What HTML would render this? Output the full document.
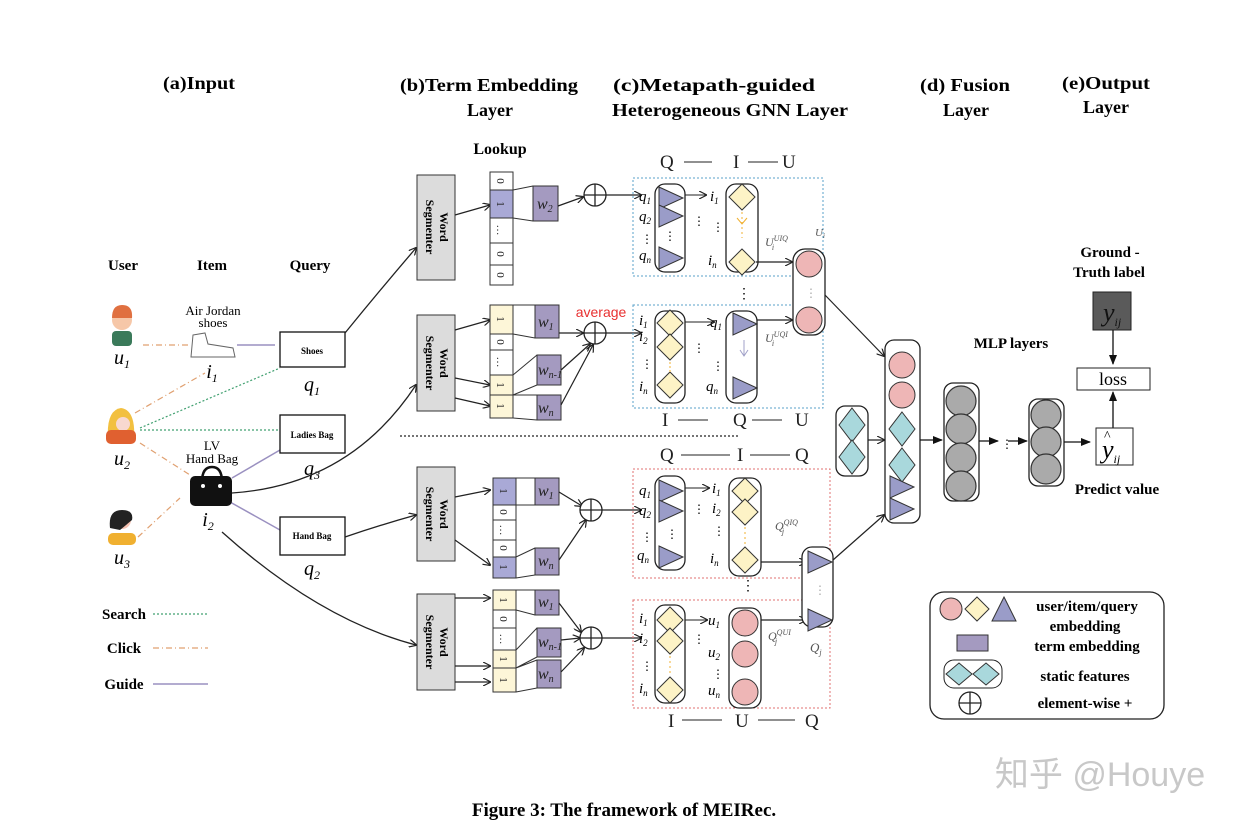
<!DOCTYPE html>
<html><head><meta charset="utf-8"><style>
body{margin:0;background:#fff}
svg{display:block}
text{font-family:"Liberation Serif",serif}
.t{font-weight:bold;font-size:18px}
.b{font-weight:bold}
.i{font-style:italic}
</style></head><body>
<svg width="1248" height="830" viewBox="0 0 1248 830" xmlns="http://www.w3.org/2000/svg">
<defs>
<marker id="a" markerWidth="8" markerHeight="8" refX="7" refY="4" orient="auto" markerUnits="userSpaceOnUse"><path d="M0,0 L8,4 L0,8" fill="none" stroke="#222" stroke-width="1.2"/></marker>
<marker id="af" markerWidth="10" markerHeight="10" refX="9" refY="5" orient="auto" markerUnits="userSpaceOnUse"><path d="M0,1 L10,5 L0,9Z" fill="#111"/></marker>
<g id="tri"><polygon points="0,-11 24,0 0,11" fill="#9a9cc8" stroke="#333" stroke-width="1"/></g>
<g id="dia"><polygon points="0,-13 13,0 0,13 -13,0" fill="#fdf3c6" stroke="#333" stroke-width="1"/></g>
<g id="cir"><circle r="13" fill="#eeb6b6" stroke="#333" stroke-width="1"/></g>
<g id="gc"><circle r="15" fill="#aaaaaa" stroke="#333" stroke-width="1.2"/></g>
<g id="sd"><polygon points="0,-17 13,0 0,17 -13,0" fill="#a9d8dc" stroke="#333" stroke-width="1"/></g>
<g id="plus"><circle r="11" fill="#fff" stroke="#222" stroke-width="1.3"/><path d="M-11,0H11M0,-11V11" stroke="#222" stroke-width="1.3"/></g>
</defs>

<!-- titles -->
<text class="t" x="199" y="89" text-anchor="middle" textLength="72" lengthAdjust="spacingAndGlyphs">(a)Input</text>
<text class="t" x="489" y="91" text-anchor="middle" textLength="178" lengthAdjust="spacingAndGlyphs">(b)Term Embedding</text>
<text class="t" x="490" y="116" text-anchor="middle">Layer</text>
<text class="t" x="714" y="91" text-anchor="middle" textLength="202" lengthAdjust="spacingAndGlyphs">(c)Metapath-guided</text>
<text class="t" x="730" y="116" text-anchor="middle" textLength="236" lengthAdjust="spacingAndGlyphs">Heterogeneous GNN Layer</text>
<text class="t" x="965" y="91" text-anchor="middle" textLength="90" lengthAdjust="spacingAndGlyphs">(d) Fusion</text>
<text class="t" x="966" y="116" text-anchor="middle">Layer</text>
<text class="t" x="1106" y="89" text-anchor="middle" textLength="88" lengthAdjust="spacingAndGlyphs">(e)Output</text>
<text class="t" x="1106" y="113" text-anchor="middle">Layer</text>
<text class="b" x="500" y="154" text-anchor="middle" font-size="16">Lookup</text>

<!-- input labels -->
<text class="b" x="123" y="270" text-anchor="middle" font-size="15">User</text>
<text class="b" x="212" y="270" text-anchor="middle" font-size="15">Item</text>
<text class="b" x="310" y="270" text-anchor="middle" font-size="15">Query</text>

<!-- connections in input -->
<path d="M143,345 L190,345" stroke="#e0a070" stroke-width="1.2" stroke-dasharray="6,3,1,3" fill="none"/>
<path d="M237,345 L275,345" stroke="#9a90c0" stroke-width="1.5"/>
<path d="M135,413 L205,373" stroke="#e0a070" stroke-width="1.2" stroke-dasharray="6,3,1,3"/>
<path d="M140,428 L280,368" stroke="#40a070" stroke-width="1.2" stroke-dasharray="2,2"/>
<path d="M140,430 L280,430" stroke="#40a070" stroke-width="1.2" stroke-dasharray="2,2"/>
<path d="M140,443 L190,475" stroke="#e0a070" stroke-width="1.2" stroke-dasharray="6,3,1,3"/>
<path d="M138,537 L180,498" stroke="#e0a070" stroke-width="1.2" stroke-dasharray="6,3,1,3"/>
<path d="M232,478 L280,450" stroke="#9a90c0" stroke-width="1.5"/>
<path d="M230,502 L280,530" stroke="#9a90c0" stroke-width="1.5"/>

<!-- users -->
<g>
<circle cx="122" cy="320" r="10" fill="#f6c7a8"/><path d="M112,318 Q112,305 122,305 Q133,305 132,318" fill="#e07040"/>
<rect x="112" y="331" width="20" height="15" rx="4" fill="#3a7a5a"/>
<text class="i" x="122" y="364" text-anchor="middle" font-size="20">u<tspan font-size="12" dy="4">1</tspan></text>
</g>
<g>
<path d="M108,440 Q106,410 121,408 Q136,410 134,440Z" fill="#f2c040"/>
<circle cx="123" cy="424" r="7" fill="#f8d8d0"/>
<rect x="106" y="430" width="30" height="14" rx="5" fill="#e06030"/>
<text class="i" x="122" y="465" text-anchor="middle" font-size="20">u<tspan font-size="12" dy="4">2</tspan></text>
</g>
<g>
<circle cx="122" cy="520" r="9" fill="#f4c0b0"/><path d="M110,528 Q108,510 122,510 Q134,510 132,520 L120,530Z" fill="#222"/>
<rect x="108" y="533" width="28" height="12" rx="5" fill="#f0b030"/>
<text class="i" x="122" y="564" text-anchor="middle" font-size="20">u<tspan font-size="12" dy="4">3</tspan></text>
</g>
<!-- items -->
<text x="213" y="315" text-anchor="middle" font-size="13">Air Jordan</text>
<text x="213" y="327" text-anchor="middle" font-size="13">shoes</text>
<path d="M193,335 L205,333 L208,344 L233,348 L235,357 L191,357 Z" fill="#fff" stroke="#666" stroke-width="1"/>
<text class="i" x="212" y="378" text-anchor="middle" font-size="20">i<tspan font-size="12" dy="4">1</tspan></text>
<text x="212" y="450" text-anchor="middle" font-size="13">LV</text>
<text x="212" y="463" text-anchor="middle" font-size="13">Hand Bag</text>
<path d="M202,482 Q202,467 212,467 Q222,467 222,482" fill="none" stroke="#111" stroke-width="2.5"/>
<rect x="190" y="476" width="42" height="30" rx="5" fill="#111"/>
<circle cx="203" cy="486" r="2" fill="#fff"/><circle cx="220" cy="486" r="2" fill="#fff"/>
<text class="i" x="208" y="526" text-anchor="middle" font-size="20">i<tspan font-size="12" dy="4">2</tspan></text>
<!-- queries -->
<rect x="280" y="332" width="65" height="35" fill="#fff" stroke="#111" stroke-width="1.3"/>
<text class="b" x="312" y="354" text-anchor="middle" font-size="9">Shoes</text>
<text class="i" x="312" y="391" text-anchor="middle" font-size="20">q<tspan font-size="12" dy="4">1</tspan></text>
<rect x="280" y="415" width="65" height="38" fill="#fff" stroke="#111" stroke-width="1.3"/>
<text class="b" x="312" y="438" text-anchor="middle" font-size="9">Ladies Bag</text>
<text class="i" x="312" y="475" text-anchor="middle" font-size="20">q<tspan font-size="12" dy="4">3</tspan></text>
<rect x="280" y="517" width="65" height="38" fill="#fff" stroke="#111" stroke-width="1.3"/>
<text class="b" x="312" y="539" text-anchor="middle" font-size="9">Hand Bag</text>
<text class="i" x="312" y="575" text-anchor="middle" font-size="20">q<tspan font-size="12" dy="4">2</tspan></text>
<!-- legend input -->
<text class="b" x="124" y="619" text-anchor="middle" font-size="15">Search</text>
<path d="M153,614 L208,614" stroke="#40a070" stroke-width="1.2" stroke-dasharray="2,2"/>
<text class="b" x="124" y="653" text-anchor="middle" font-size="15">Click</text>
<path d="M153,648 L208,648" stroke="#e0a070" stroke-width="1.2" stroke-dasharray="6,3,1,3"/>
<text class="b" x="124" y="689" text-anchor="middle" font-size="15">Guide</text>
<path d="M153,684 L208,684" stroke="#9a90c0" stroke-width="1.5"/>

<!-- curves to segmenters -->
<g fill="none" stroke="#222" stroke-width="1.3">
<path d="M345,333 Q380,290 416,248" marker-end="url(#a)"/>
<path d="M232,493 Q350,485 416,385" marker-end="url(#a)"/>
<path d="M345,537 Q380,525 416,515" marker-end="url(#a)"/>
<path d="M222,532 Q320,620 416,645" marker-end="url(#a)"/>
</g>

<!-- word segmenters -->
<g>
<rect x="417" y="175" width="38" height="105" fill="#dcdcdc" stroke="#333"/>
<rect x="417" y="315" width="38" height="96" fill="#dcdcdc" stroke="#333"/>
<rect x="417" y="467" width="38" height="94" fill="#dcdcdc" stroke="#333"/>
<rect x="417" y="594" width="38" height="96" fill="#dcdcdc" stroke="#333"/>
<g class="b" font-size="12" text-anchor="middle">
<text transform="translate(436,227) rotate(90)" y="-4">Word</text><text transform="translate(436,227) rotate(90)" y="10">Segmenter</text>
<text transform="translate(436,363) rotate(90)" y="-4">Word</text><text transform="translate(436,363) rotate(90)" y="10">Segmenter</text>
<text transform="translate(436,514) rotate(90)" y="-4">Word</text><text transform="translate(436,514) rotate(90)" y="10">Segmenter</text>
<text transform="translate(436,642) rotate(90)" y="-4">Word</text><text transform="translate(436,642) rotate(90)" y="10">Segmenter</text>
</g>
</g>

<!-- segmenter -> lookup arrows -->
<g fill="none" stroke="#222" stroke-width="1.2">
<path d="M455,215 L490,205" marker-end="url(#a)"/>
<path d="M455,330 L490,320" marker-end="url(#a)"/>
<path d="M455,378 L490,385" marker-end="url(#a)"/>
<path d="M455,398 L490,406" marker-end="url(#a)"/>
<path d="M455,497 L490,490" marker-end="url(#a)"/>
<path d="M455,540 L490,565" marker-end="url(#a)"/>
<path d="M455,598 L490,598" marker-end="url(#a)"/>
<path d="M455,666 L490,666" marker-end="url(#a)"/>
<path d="M455,682 L490,682" marker-end="url(#a)"/>
</g>

<!-- lookup vectors -->
<g stroke="#333" stroke-width="1" font-size="11" text-anchor="middle">
<!-- top -->
<rect x="490" y="172" width="23" height="18" fill="#fff"/><rect x="490" y="190" width="23" height="28" fill="#a9a9d6"/>
<rect x="490" y="218" width="23" height="25" fill="#fff"/><rect x="490" y="243" width="23" height="22" fill="#fff"/><rect x="490" y="265" width="23" height="20" fill="#fff"/>
<!-- second -->
<rect x="490" y="305" width="23" height="29" fill="#fdf6d8"/><rect x="490" y="334" width="23" height="16" fill="#fff"/>
<rect x="490" y="350" width="23" height="25" fill="#fff"/><rect x="490" y="375" width="23" height="20" fill="#fdf6d8"/><rect x="490" y="395" width="23" height="23" fill="#fdf6d8"/>
<!-- third -->
<rect x="493" y="478" width="23" height="27" fill="#a9a9d6"/><rect x="493" y="505" width="23" height="15" fill="#fff"/>
<rect x="493" y="520" width="23" height="20" fill="#fff"/><rect x="493" y="540" width="23" height="17" fill="#fff"/><rect x="493" y="557" width="23" height="21" fill="#a9a9d6"/>
<!-- fourth -->
<rect x="493" y="590" width="23" height="20" fill="#fdf6d8"/><rect x="493" y="610" width="23" height="18" fill="#fff"/>
<rect x="493" y="628" width="23" height="22" fill="#fff"/><rect x="493" y="650" width="23" height="18" fill="#fdf6d8"/><rect x="493" y="668" width="23" height="24" fill="#fdf6d8"/>
</g>
<g font-size="11" text-anchor="middle" fill="#222">
<text transform="translate(501,181) rotate(90)" y="4">0</text><text transform="translate(501,204) rotate(90)" y="4">1</text><text transform="translate(501,230) rotate(90)" y="4">…</text><text transform="translate(501,254) rotate(90)" y="4">0</text><text transform="translate(501,275) rotate(90)" y="4">0</text>
<text transform="translate(501,319) rotate(90)" y="4">1</text><text transform="translate(501,342) rotate(90)" y="4">0</text><text transform="translate(501,362) rotate(90)" y="4">…</text><text transform="translate(501,385) rotate(90)" y="4">1</text><text transform="translate(501,406) rotate(90)" y="4">1</text>
<text transform="translate(504,491) rotate(90)" y="4">1</text><text transform="translate(504,512) rotate(90)" y="4">0</text><text transform="translate(504,530) rotate(90)" y="4">…</text><text transform="translate(504,548) rotate(90)" y="4">0</text><text transform="translate(504,567) rotate(90)" y="4">1</text>
<text transform="translate(504,600) rotate(90)" y="4">1</text><text transform="translate(504,619) rotate(90)" y="4">0</text><text transform="translate(504,639) rotate(90)" y="4">…</text><text transform="translate(504,659) rotate(90)" y="4">1</text><text transform="translate(504,680) rotate(90)" y="4">1</text>
</g>

<!-- w boxes with connecting lines -->
<g stroke="#333" stroke-width="1" fill="none">
<path d="M513,190 L533,186 M513,218 L533,221"/>
<path d="M513,305 L535,305 M513,334 L535,338 M513,375 L537,355 M513,395 L537,385 M513,395 L537,395 M513,418 L537,420"/>
<path d="M516,478 L535,478 M516,505 L535,505 M516,557 L535,548 M516,578 L535,575"/>
<path d="M516,590 L535,590 M516,610 L535,615 M516,650 L537,628 M516,668 L537,657 M516,668 L537,660 M516,692 L537,688"/>
</g>
<g fill="#a49ac0" stroke="#333">
<rect x="533" y="186" width="25" height="35"/>
<rect x="535" y="305" width="24" height="33"/><rect x="537" y="355" width="24" height="30"/><rect x="537" y="395" width="24" height="25"/>
<rect x="535" y="478" width="24" height="27"/><rect x="535" y="548" width="24" height="27"/>
<rect x="535" y="590" width="24" height="25"/><rect x="537" y="628" width="24" height="29"/><rect x="537" y="660" width="24" height="28"/>
</g>
<g class="i" font-size="16" fill="#222">
<text x="537" y="209">w<tspan font-size="10" dy="3">2</tspan></text>
<text x="538" y="327">w<tspan font-size="10" dy="3">1</tspan></text>
<text x="538" y="375">w<tspan font-size="10" dy="3">n-1</tspan></text>
<text x="538" y="413">w<tspan font-size="10" dy="3">n</tspan></text>
<text x="538" y="496">w<tspan font-size="10" dy="3">1</tspan></text>
<text x="538" y="566">w<tspan font-size="10" dy="3">n</tspan></text>
<text x="538" y="607">w<tspan font-size="10" dy="3">1</tspan></text>
<text x="538" y="647">w<tspan font-size="10" dy="3">n-1</tspan></text>
<text x="538" y="679">w<tspan font-size="10" dy="3">n</tspan></text>
</g>
<!-- plus nodes -->
<g fill="none" stroke="#222" stroke-width="1.2">
<path d="M558,206 L583,197" marker-end="url(#a)"/><path d="M606,195 L641,195" marker-end="url(#a)"/>
<path d="M559,333 L583,333" marker-end="url(#a)"/><path d="M561,370 L590,344" marker-end="url(#a)"/><path d="M561,405 L593,345" marker-end="url(#a)"/><path d="M606,333 L641,333" marker-end="url(#a)"/>
<path d="M559,492 L582,506" marker-end="url(#a)"/><path d="M559,560 L586,520" marker-end="url(#a)"/><path d="M602,510 L641,510" marker-end="url(#a)"/>
<path d="M559,603 L581,632" marker-end="url(#a)"/><path d="M561,640 L580,638" marker-end="url(#a)"/><path d="M561,672 L584,648" marker-end="url(#a)"/><path d="M602,638 L641,638" marker-end="url(#a)"/>
</g>
<use href="#plus" x="595" y="195"/><use href="#plus" x="595" y="333"/><use href="#plus" x="591" y="510"/><use href="#plus" x="591" y="638"/>
<text x="601" y="317" text-anchor="middle" font-size="14" fill="#e83030" style="font-family:'Liberation Sans',sans-serif">average</text>

<!-- separator -->
<path d="M400,436 L740,436" stroke="#222" stroke-width="1.2" stroke-dasharray="2,2"/>

<!-- metapath labels -->
<g font-size="19" fill="#222">
<text x="660" y="168">Q</text><path d="M684,162 H712" stroke="#222"/><text x="733" y="168">I</text><path d="M748,162 H778" stroke="#222"/><text x="782" y="168">U</text>
<text x="662" y="426">I</text><path d="M678,420 H708" stroke="#222"/><text x="733" y="426">Q</text><path d="M752,420 H782" stroke="#222"/><text x="795" y="426">U</text>
<text x="660" y="461">Q</text><path d="M681,455 H730" stroke="#222"/><text x="737" y="461">I</text><path d="M750,455 H790" stroke="#222"/><text x="795" y="461">Q</text>
<text x="668" y="727">I</text><path d="M682,720 H722" stroke="#222"/><text x="735" y="727">U</text><path d="M758,720 H795" stroke="#222"/><text x="805" y="727">Q</text>
</g>

<!-- dashed boxes -->
<rect x="633" y="178" width="190" height="98" fill="none" stroke="#5aa0c8" stroke-width="1" stroke-dasharray="2,2"/>
<rect x="633" y="305" width="190" height="103" fill="none" stroke="#5aa0c8" stroke-width="1" stroke-dasharray="2,2"/>
<rect x="633" y="469" width="197" height="109" fill="none" stroke="#e07070" stroke-width="1" stroke-dasharray="2,2"/>
<rect x="633" y="600" width="197" height="108" fill="none" stroke="#e07070" stroke-width="1" stroke-dasharray="2,2"/>

<!-- block 1 QIU -->
<rect x="655" y="184" width="30" height="88" rx="10" fill="#fff" stroke="#222" stroke-width="1.3"/>
<use href="#tri" x="659" y="198"/><use href="#tri" x="659" y="216"/><use href="#tri" x="659" y="258"/>
<text x="670" y="240" text-anchor="middle" font-size="12">⋮</text>
<rect x="726" y="184" width="32" height="88" rx="10" fill="#fff" stroke="#222" stroke-width="1.3"/>
<use href="#dia" x="742" y="197"/><use href="#dia" x="742" y="262"/>
<path d="M742,212 V238" stroke="#f0b030" stroke-dasharray="2,3"/><path d="M737,218 L742,224 L747,218" stroke="#f0b030" fill="none"/>
<g class="i" font-size="15">
<text x="639" y="201">q<tspan font-size="9" dy="3">1</tspan></text><text x="639" y="221">q<tspan font-size="9" dy="3">2</tspan></text><text x="641" y="243" font-style="normal" font-size="12">⋮</text><text x="639" y="260">q<tspan font-size="9" dy="3">n</tspan></text>
<text x="710" y="201">i<tspan font-size="9" dy="3">1</tspan></text><text x="712" y="231" font-style="normal" font-size="12">⋮</text><text x="708" y="265">i<tspan font-size="9" dy="3">n</tspan></text>
</g>
<text x="693" y="225" font-size="12">⋮</text>
<path d="M685,195 L706,195" stroke="#222" marker-end="url(#a)"/>
<path d="M756,262 L792,262" stroke="#222" stroke-width="1.2" marker-end="url(#a)"/>
<text class="i" x="765" y="246" font-size="12" fill="#555">U<tspan font-size="8" dy="-5">UIQ</tspan><tspan font-size="8" dy="9" dx="-16">i</tspan></text>
<text class="i" x="815" y="236" font-size="11" fill="#555">U<tspan font-size="7" dy="2">i</tspan></text>

<!-- block 2 IQU -->
<rect x="655" y="311" width="30" height="92" rx="10" fill="#fff" stroke="#222" stroke-width="1.3"/>
<use href="#dia" x="670" y="323"/><use href="#dia" x="670" y="347"/><use href="#dia" x="670" y="385"/>
<path d="M670,362 V372" stroke="#f0b030" stroke-dasharray="2,2"/>
<rect x="726" y="311" width="31" height="92" rx="10" fill="#fff" stroke="#222" stroke-width="1.3"/>
<use href="#tri" x="733" y="324"/><use href="#tri" x="733" y="388"/>
<path d="M744,340 V356 M740,350 L744,356 L748,350" stroke="#a0a0c8" fill="none"/>
<g class="i" font-size="15">
<text x="639" y="325">i<tspan font-size="9" dy="3">1</tspan></text><text x="639" y="341">i<tspan font-size="9" dy="3">2</tspan></text><text x="641" y="368" font-style="normal" font-size="12">⋮</text><text x="639" y="391">i<tspan font-size="9" dy="3">n</tspan></text>
<text x="710" y="327">q<tspan font-size="9" dy="3">1</tspan></text><text x="712" y="370" font-style="normal" font-size="12">⋮</text><text x="706" y="391">q<tspan font-size="9" dy="3">n</tspan></text>
</g>
<text x="693" y="352" font-size="12">⋮</text>
<path d="M685,322 L714,322" stroke="#222" marker-end="url(#a)"/>
<path d="M757,320 L792,320" stroke="#222" stroke-width="1.2" marker-end="url(#a)"/>
<text class="i" x="765" y="342" font-size="12" fill="#555">U<tspan font-size="8" dy="-5">UQI</tspan><tspan font-size="8" dy="9" dx="-16">i</tspan></text>
<text x="737" y="298" font-size="14">⋮</text>
<!-- U pill -->
<rect x="793" y="249" width="32" height="86" rx="12" fill="#fff" stroke="#222" stroke-width="1.3"/>
<use href="#cir" x="809" y="264"/><use href="#cir" x="809" y="320"/>
<text x="805" y="297" font-size="12" fill="#aaa">⋮</text>

<!-- block 3 QIQ -->
<rect x="655" y="476" width="30" height="94" rx="10" fill="#fff" stroke="#222" stroke-width="1.3"/>
<use href="#tri" x="659" y="491"/><use href="#tri" x="659" y="511"/><use href="#tri" x="659" y="557"/>
<text x="666" y="538" font-size="12">⋮</text>
<rect x="729" y="478" width="32" height="98" rx="10" fill="#fff" stroke="#222" stroke-width="1.3"/>
<use href="#dia" x="745" y="491"/><use href="#dia" x="745" y="512"/><use href="#dia" x="745" y="560"/>
<path d="M745,527 V545" stroke="#f0b030" stroke-dasharray="2,3"/>
<g class="i" font-size="15">
<text x="639" y="495">q<tspan font-size="9" dy="3">1</tspan></text><text x="639" y="515">q<tspan font-size="9" dy="3">2</tspan></text><text x="641" y="541" font-style="normal" font-size="12">⋮</text><text x="637" y="560">q<tspan font-size="9" dy="3">n</tspan></text>
<text x="712" y="493">i<tspan font-size="9" dy="3">1</tspan></text><text x="712" y="513">i<tspan font-size="9" dy="3">2</tspan></text><text x="713" y="535" font-style="normal" font-size="12">⋮</text><text x="710" y="563">i<tspan font-size="9" dy="3">n</tspan></text>
</g>
<text x="693" y="513" font-size="12">⋮</text>
<path d="M685,488 L709,488" stroke="#222" marker-end="url(#a)"/>
<path d="M761,562 L806,562" stroke="#222" stroke-width="1.2" marker-end="url(#a)"/>
<text class="i" x="775" y="530" font-size="12" fill="#555">Q<tspan font-size="8" dy="-5">QIQ</tspan><tspan font-size="8" dy="9" dx="-16">j</tspan></text>

<!-- block 4 IUQ -->
<rect x="655" y="605" width="30" height="98" rx="10" fill="#fff" stroke="#222" stroke-width="1.3"/>
<use href="#dia" x="670" y="620"/><use href="#dia" x="670" y="641"/><use href="#dia" x="670" y="690"/>
<path d="M670,656 V675" stroke="#f0b030" stroke-dasharray="2,3"/>
<rect x="729" y="608" width="32" height="100" rx="10" fill="#fff" stroke="#222" stroke-width="1.3"/>
<use href="#cir" x="745" y="623"/><use href="#cir" x="745" y="654"/><use href="#cir" x="745" y="692"/>
<g class="i" font-size="15">
<text x="639" y="623">i<tspan font-size="9" dy="3">1</tspan></text><text x="639" y="643">i<tspan font-size="9" dy="3">2</tspan></text><text x="641" y="670" font-style="normal" font-size="12">⋮</text><text x="639" y="693">i<tspan font-size="9" dy="3">n</tspan></text>
<text x="708" y="625">u<tspan font-size="9" dy="3">1</tspan></text><text x="708" y="657">u<tspan font-size="9" dy="3">2</tspan></text><text x="712" y="678" font-style="normal" font-size="12">⋮</text><text x="708" y="695">u<tspan font-size="9" dy="3">n</tspan></text>
</g>
<text x="693" y="643" font-size="12">⋮</text>
<path d="M685,620 L707,620" stroke="#222" marker-end="url(#a)"/>
<path d="M761,620 L806,620" stroke="#222" stroke-width="1.2" marker-end="url(#a)"/>
<text class="i" x="768" y="640" font-size="12" fill="#555">Q<tspan font-size="8" dy="-5">QUI</tspan><tspan font-size="8" dy="9" dx="-16">j</tspan></text>
<text x="741" y="590" font-size="14">⋮</text>
<!-- Qj pill -->
<rect x="802" y="547" width="31" height="80" rx="10" fill="#fff" stroke="#222" stroke-width="1.3"/>
<use href="#tri" x="808" y="562"/><use href="#tri" x="808" y="620"/>
<text x="814" y="594" font-size="12" fill="#aaa">⋮</text>
<text class="i" x="810" y="652" font-size="13" fill="#555">Q<tspan font-size="8" dy="3">j</tspan></text>

<!-- fusion -->
<path d="M825,295 L884,356" stroke="#222" stroke-width="1.2" marker-end="url(#a)"/>
<path d="M833,560 L884,515" stroke="#222" stroke-width="1.2" marker-end="url(#a)"/>
<path d="M867,440 L884,440" stroke="#222" stroke-width="1.2" marker-end="url(#a)"/>
<rect x="836" y="406" width="32" height="70" rx="9" fill="#fff" stroke="#222" stroke-width="1.3"/>
<use href="#sd" x="852" y="425"/><use href="#sd" x="852" y="457"/>
<rect x="885" y="340" width="35" height="183" rx="9" fill="#fff" stroke="#222" stroke-width="1.3"/>
<use href="#cir" x="902" y="365"/><use href="#cir" x="902" y="395"/>
<use href="#sd" x="902" y="429"/><use href="#sd" x="902" y="465"/>
<use href="#tri" x="890" y="487"/><use href="#tri" x="890" y="509"/>
<path d="M920,440 L942,440" stroke="#111" stroke-width="1.3" marker-end="url(#af)"/>
<text class="b" x="1011" y="348" text-anchor="middle" font-size="15">MLP layers</text>
<rect x="944" y="383" width="35" height="118" rx="9" fill="#fff" stroke="#222" stroke-width="1.3"/>
<use href="#gc" x="961" y="401"/><use href="#gc" x="961" y="429"/><use href="#gc" x="961" y="458"/><use href="#gc" x="961" y="486"/>
<path d="M979,441 L998,441" stroke="#111" stroke-width="1.3" marker-end="url(#af)"/>
<text x="1001" y="448" font-size="12">⋮</text>
<path d="M1008,441 L1027,441" stroke="#111" stroke-width="1.3" marker-end="url(#af)"/>
<rect x="1029" y="399" width="35" height="87" rx="9" fill="#fff" stroke="#222" stroke-width="1.3"/>
<use href="#gc" x="1046" y="415"/><use href="#gc" x="1046" y="442"/><use href="#gc" x="1046" y="469"/>
<path d="M1064,442 L1090,442" stroke="#111" stroke-width="1.3" marker-end="url(#af)"/>

<!-- output -->
<text class="b" x="1110" y="257" text-anchor="middle" font-size="15">Ground -</text>
<text class="b" x="1109" y="277" text-anchor="middle" font-size="15">Truth label</text>
<rect x="1093" y="292" width="38" height="38" fill="#5a5a5a" stroke="#222"/>
<text class="i" x="1103" y="321" font-size="26" fill="#111">y<tspan font-size="12" dy="5">ij</tspan></text>
<path d="M1113,330 L1113,364" stroke="#111" stroke-width="1.3" marker-end="url(#af)"/>
<rect x="1077" y="368" width="73" height="22" fill="#fff" stroke="#222"/>
<text x="1113" y="385" text-anchor="middle" font-size="18">loss</text>
<path d="M1113,428 L1113,392" stroke="#111" stroke-width="1.3" marker-end="url(#af)"/>
<rect x="1096" y="428" width="37" height="37" fill="#fff" stroke="#222"/>
<text class="i" x="1102" y="458" font-size="26">y<tspan font-size="12" dy="5">ij</tspan></text>
<text x="1104" y="440" font-size="14">^</text>
<text class="b" x="1117" y="494" text-anchor="middle" font-size="15">Predict value</text>

<!-- legend -->
<rect x="930" y="592" width="234" height="127" rx="14" fill="#fff" stroke="#222" stroke-width="1.3"/>
<circle cx="951" cy="609" r="11" fill="#eeb6b6" stroke="#333"/>
<polygon points="977,597 989,609 977,621 965,609" fill="#fdf3c6" stroke="#333"/>
<polygon points="1004,597 1016,621 992,621" fill="#9a9cc8" stroke="#333"/>
<rect x="957" y="635" width="31" height="16" fill="#a49ac0" stroke="#333"/>
<rect x="944" y="660" width="58" height="28" rx="10" fill="#fff" stroke="#222"/>
<polygon points="959,663 972,674 959,685 946,674" fill="#a9d8dc" stroke="#333"/>
<polygon points="986,663 999,674 986,685 973,674" fill="#a9d8dc" stroke="#333"/>
<use href="#plus" x="970" y="703" transform="scale(1)"/>
<g class="b" font-size="15" text-anchor="middle">
<text x="1087" y="611">user/item/query</text>
<text x="1085" y="631">embedding</text>
<text x="1087" y="651">term embedding</text>
<text x="1085" y="681">static features</text>
<text x="1085" y="708">element-wise +</text>
</g>

<!-- watermark -->
<text x="1100" y="786" text-anchor="middle" font-size="34" fill="#c8c8c8" style="font-family:'Liberation Sans','Noto Sans CJK SC',sans-serif">知乎 @Houye</text>
<!-- caption -->
<text class="b" x="624" y="816" text-anchor="middle" font-size="19">Figure 3: The framework of MEIRec.</text>
</svg>
</body></html>
